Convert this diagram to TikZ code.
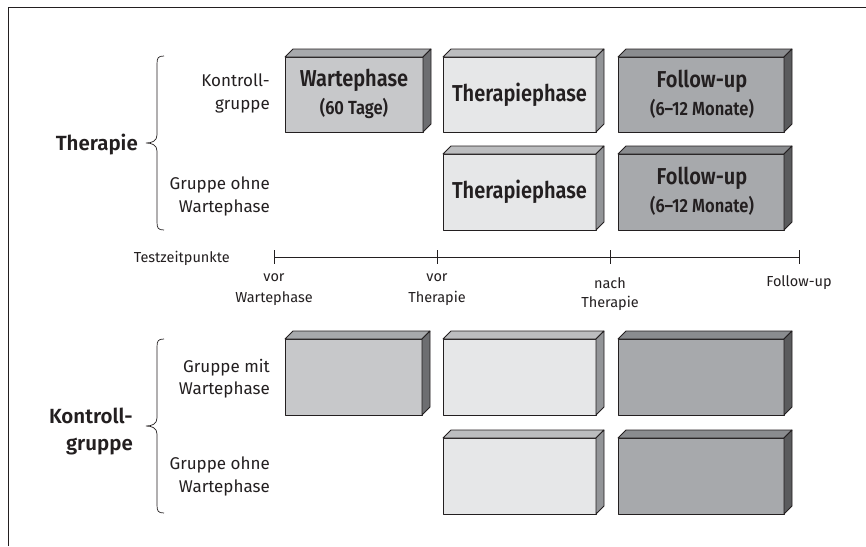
\documentclass[tikz,border=0pt]{standalone}
\usepackage{fontspec}
\setmainfont{Fira Sans}[BoldFont={Fira Sans SemiBold}]
\newfontfamily\boxfont{Fira Sans SemiBold}[FakeStretch=0.87]
\definecolor{ink}{HTML}{231F20}
\definecolor{wF}{HTML}{C7C8CA}
\definecolor{wT}{HTML}{A7A9AC}
\definecolor{wS}{HTML}{6D6E71}
\definecolor{tF}{HTML}{E6E7E8}
\definecolor{tT}{HTML}{BCBDBF}
\definecolor{tS}{HTML}{939598}
\definecolor{fF}{HTML}{A7A9AC}
\definecolor{fT}{HTML}{8A8C8F}
\definecolor{fS}{HTML}{5A5B5D}
\tikzset{
  edge/.style={draw=ink, line width=0.8pt, line join=round},
  phase/.style={edge, rectangle, inner sep=0pt, outer sep=0pt},
  boxbig/.style={text=ink, font=\boxfont\fontsize{23}{26}\selectfont, inner sep=0pt, anchor=base},
  boxsmall/.style={text=ink, font=\boxfont\fontsize{19}{22}\selectfont, inner sep=0pt, anchor=base},
  biglabel/.style={text=ink, font=\bfseries\fontsize{20.5}{26}\selectfont, inner sep=0pt, anchor=base east},
  rowlabel/.style={text=ink, font=\fontsize{17}{23}\selectfont, inner sep=0pt, anchor=base east},
  ticklabel/.style={text=ink, font=\fontsize{14.5}{19}\selectfont, inner sep=0pt, anchor=base},
  bracepath/.style={draw=ink, line width=0.7pt},
}
\newcommand\phasebox[6]{%
  \node[phase, fill=#6F, minimum width={#4-#2}, minimum height={#5-#3}] (#1) at ({(#2+#4)/2},{(#3+#5)/2}) {};
  \filldraw[edge, fill=#6T] (#1.north west) -- ([xshift=8pt,yshift=8pt]#1.north west) -- ([xshift=8pt,yshift=8pt]#1.north east) -- (#1.north east) -- cycle;
  \filldraw[edge, fill=#6S] (#1.north east) -- ([xshift=8pt,yshift=8pt]#1.north east) -- ([xshift=8pt,yshift=8pt]#1.south east) -- (#1.south east) -- cycle;
}
\newcommand\bracedraw[3]{% x of line, top y, bottom y
  \pgfmathsetmacro\bm{(#2+#3)/2}
  \draw[bracepath] (#1+7,#2) .. controls (#1+1,#2) and (#1,#2+2) .. (#1,#2+8)
    -- (#1,\bm-8) .. controls (#1,\bm-2) and (#1-5,\bm) .. (#1-11,\bm)
    .. controls (#1-5,\bm) and (#1,\bm+2) .. (#1,\bm+8)
    -- (#1,#3-8) .. controls (#1,#3-2) and (#1+1,#3) .. (#1+7,#3);
}
\begin{document}
\begin{tikzpicture}[x=1pt,y=-1pt]
\useasboundingbox (0,0) rectangle (866,546);
\fill[white] (0,0) rectangle (866,546);
% frame
\draw[ink, line width=0.9pt] (8,546) -- (8,7) -- (866,7);

% top section boxes
\phasebox{w1}{285}{57}{423}{132}{w}
\phasebox{t1}{443}{57}{596}{132}{t}
\phasebox{f1}{618}{57}{784}{132}{f}
\phasebox{t2}{443}{154}{596}{230}{t}
\phasebox{f2}{618}{154}{784}{230}{f}
\node[boxbig]   (w1a) at (354,86.5) {Wartephase};
\node[boxsmall] (w1b) at (354,114.5) {(60~Tage)};
\node[boxbig]   (t1a) at (519.5,101) {Therapiephase};
\node[boxbig]   (f1a) at (702,87) {Follow-up};
\node[boxsmall] (f1b) at (702,115) {(6–12 Monate)};
\node[boxbig]   (t2a) at (519.5,198) {Therapiephase};
\node[boxbig]   (f2a) at (702,184) {Follow-up};
\node[boxsmall] (f2b) at (702,212.5) {(6–12 Monate)};

\node[rowlabel] (r1a) at (270,86) {Kontroll-};
\node[rowlabel] (r1b) at (270,109) {gruppe};
\node[rowlabel] (r2a) at (270,189) {Gruppe ohne};
\node[rowlabel] (r2b) at (270,212) {Wartephase};
\node[biglabel] (g1) at (138,150) {Therapie};
\bracedraw{157}{56}{230}

% timeline
\coordinate (p1) at (274,257);
\coordinate (p2) at (437,257);
\coordinate (p3) at (610,257);
\coordinate (p4) at (799,257);
\draw[ink, line width=0.8pt] (p1) -- (p4);
\foreach \p in {p1,p2,p3,p4} \draw[ink, line width=0.8pt] ([yshift=7pt]\p) -- ([yshift=-7pt]\p);
\node[ticklabel, anchor=base east] (tz) at (230,262) {Testzeitpunkte};
\node[ticklabel] (l1a) at (274,281) {vor};
\node[ticklabel] (l1b) at (274,302) {Wartephase};
\node[ticklabel] (l2a) at (437,281) {vor};
\node[ticklabel] (l2b) at (437,302) {Therapie};
\node[ticklabel] (l3a) at (610,288) {nach};
\node[ticklabel] (l3b) at (610,307) {Therapie};
\node[ticklabel] (l4) at (799,286) {Follow-up};

% bottom section
\phasebox{w3}{285}{339}{422}{415}{w}
\phasebox{t3}{443}{339}{596}{415}{t}
\phasebox{f3}{618}{339}{784}{415}{f}
\phasebox{t4}{443}{438}{596}{514}{t}
\phasebox{f4}{618}{438}{784}{514}{f}

\node[rowlabel] (r3a) at (270,372) {Gruppe mit};
\node[rowlabel] (r3b) at (270,394) {Wartephase};
\node[rowlabel] (r4a) at (270,469) {Gruppe ohne};
\node[rowlabel] (r4b) at (270,492) {Wartephase};
\node[biglabel] (g2a) at (133,423) {Kontroll-};
\node[biglabel] (g2b) at (133,450) {gruppe};
\bracedraw{157}{339}{513}
\end{tikzpicture}
\end{document}
